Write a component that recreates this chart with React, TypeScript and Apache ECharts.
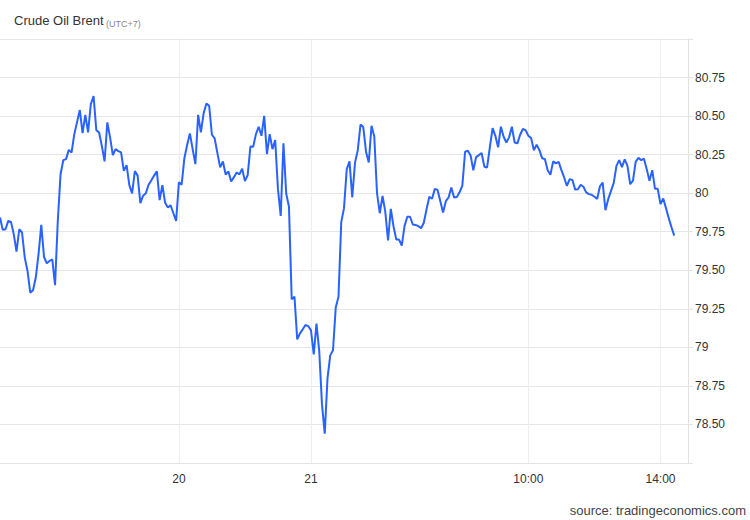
import React, { useEffect, useRef } from "react";
import * as echarts from "echarts";

const FONT = "Arial, 'Liberation Sans', Helvetica, sans-serif";

const titleText = "Crude Oil Brent";
const titleNote = "(UTC+7)";
const sourceText = "source: tradingeconomics.com";

const xTickIndex = [65, 113, 192, 240];
const xTickLabels = ["20", "21", "10:00", "14:00"];
const slotCount = 251;

const yMin = 78.25;
const yMax = 81;
const yStep = 0.25;

const priceValues = [
  79.842, 79.762, 79.766, 79.82, 79.814, 79.734, 79.621, 79.766, 79.745, 79.582,
  79.495, 79.355, 79.37, 79.453, 79.604, 79.794, 79.586, 79.545, 79.56, 79.571,
  79.403, 79.82, 80.123, 80.214, 80.221, 80.281, 80.264, 80.383, 80.461, 80.539,
  80.39, 80.508, 80.394, 80.578, 80.63, 80.409, 80.394, 80.307, 80.206, 80.459,
  80.362, 80.247, 80.286, 80.273, 80.264, 80.145, 80.182, 80.052, 79.998, 80.143,
  80.114, 79.935, 79.984, 80.0, 80.055, 80.084, 80.114, 80.142, 79.955, 80.052,
  79.938, 79.907, 79.922, 79.87, 79.82, 80.071, 80.055, 80.227, 80.312, 80.388,
  80.286, 80.188, 80.508, 80.394, 80.519, 80.582, 80.567, 80.379, 80.355, 80.26,
  80.167, 80.206, 80.121, 80.141, 80.076, 80.104, 80.134, 80.122, 80.159, 80.078,
  80.117, 80.303, 80.301, 80.383, 80.431, 80.372, 80.502, 80.253, 80.383, 80.286,
  80.344, 80.026, 79.853, 80.323, 79.998, 79.912, 79.312, 79.329, 79.052, 79.091,
  79.117, 79.145, 79.138, 79.11, 78.955, 79.154, 78.976, 78.63, 78.44, 78.799,
  78.948, 78.981, 79.258, 79.328, 79.812, 79.903, 80.156, 80.206, 79.972, 80.198,
  80.279, 80.445, 80.429, 80.269, 80.199, 80.437, 80.367, 80.0, 79.87, 79.982,
  79.88, 79.693, 79.898, 79.784, 79.699, 79.699, 79.66, 79.788, 79.847, 79.847,
  79.797, 79.794, 79.786, 79.773, 79.808, 79.896, 79.977, 79.964, 80.028, 80.021,
  79.948, 79.875, 79.948, 79.972, 80.037, 79.972, 79.975, 80.006, 80.049, 80.269,
  80.275, 80.245, 80.149, 80.234, 80.247, 80.261, 80.172, 80.167, 80.299, 80.422,
  80.372, 80.297, 80.431, 80.366, 80.329, 80.362, 80.431, 80.329, 80.323, 80.379,
  80.416, 80.409, 80.372, 80.357, 80.279, 80.314, 80.279, 80.227, 80.221, 80.149,
  80.119, 80.206, 80.193, 80.203, 80.149, 80.102, 80.047, 80.091, 80.086, 80.023,
  80.026, 80.055, 80.042, 80.005, 79.994, 79.99, 79.977, 79.963, 80.045, 80.069,
  79.89, 79.961, 80.013, 80.065, 80.177, 80.214, 80.169, 80.219, 80.177, 80.058,
  80.081, 80.205, 80.229, 80.214, 80.224, 80.156, 80.08, 80.149, 80.029, 80.028,
  79.929, 79.966, 79.903, 79.838, 79.779, 79.725,
];

export default function App() {
  const ref = useRef<HTMLDivElement>(null);

  useEffect(() => {
    if (!ref.current) return;
    const chart = echarts.init(ref.current, null, { renderer: "svg" });
    const categories = Array.from({ length: slotCount }, (_, i) => String(i));
    const isTick = (i: number) => xTickIndex.indexOf(i) >= 0;

    chart.setOption({
      animation: false,
      backgroundColor: "#ffffff",
      grid: { left: 0, right: 62, top: 39, bottom: 57, containLabel: false },
      xAxis: {
        type: "category",
        data: categories,
        boundaryGap: false,
        axisLine: { show: true, lineStyle: { color: "#e2e2e2", width: 1 } },
        axisTick: { show: false },
        axisLabel: {
          interval: (i: number) => isTick(i),
          formatter: (v: string) => {
            const k = xTickIndex.indexOf(Number(v));
            return k >= 0 ? xTickLabels[k] : "";
          },
          margin: 10,
          color: "#333333",
          fontSize: 12,
          fontFamily: FONT,
        },
        splitLine: {
          show: true,
          interval: (i: number) => isTick(i),
          lineStyle: { color: "#eeeeee", width: 1 },
        },
      },
      yAxis: {
        type: "value",
        position: "right",
        min: yMin,
        max: yMax,
        interval: yStep,
        axisLine: { show: true, lineStyle: { color: "#e2e2e2", width: 1 } },
        axisTick: { show: true, length: 5, lineStyle: { color: "#e2e2e2" } },
        axisLabel: {
          margin: 7,
          color: "#333333",
          fontSize: 12,
          fontFamily: FONT,
          formatter: (v: number) => {
            if (Math.abs(v - yMin) < 1e-9 || Math.abs(v - yMax) < 1e-9) return "";
            return Math.abs(v - Math.round(v)) < 1e-9 ? String(Math.round(v)) : v.toFixed(2);
          },
        },
        splitLine: { show: true, lineStyle: { color: "#e6e6e6", width: 1 } },
      },
      series: [
        {
          type: "line",
          data: priceValues,
          showSymbol: false,
          symbol: "none",
          lineStyle: { color: "#2962ff", width: 2 },
          itemStyle: { color: "#2962ff" },
        },
      ],
      graphic: [
        {
          type: "text",
          left: 14,
          top: 14,
          style: { text: titleText, fontSize: 13, fontFamily: FONT, fill: "#333333" },
        },
        {
          type: "text",
          left: 106,
          top: 19,
          style: { text: titleNote, fontSize: 9, fontFamily: FONT, fill: "#888888" },
        },
        {
          type: "text",
          right: 4,
          top: 504,
          style: { text: sourceText, fontSize: 13, fontFamily: FONT, fill: "#444444" },
        },
      ],
    });

    return () => chart.dispose();
  }, []);

  return (
    <div
      ref={ref}
      style={{ position: "absolute", left: 0, top: 0, width: 750, height: 520 }}
    />
  );
}
